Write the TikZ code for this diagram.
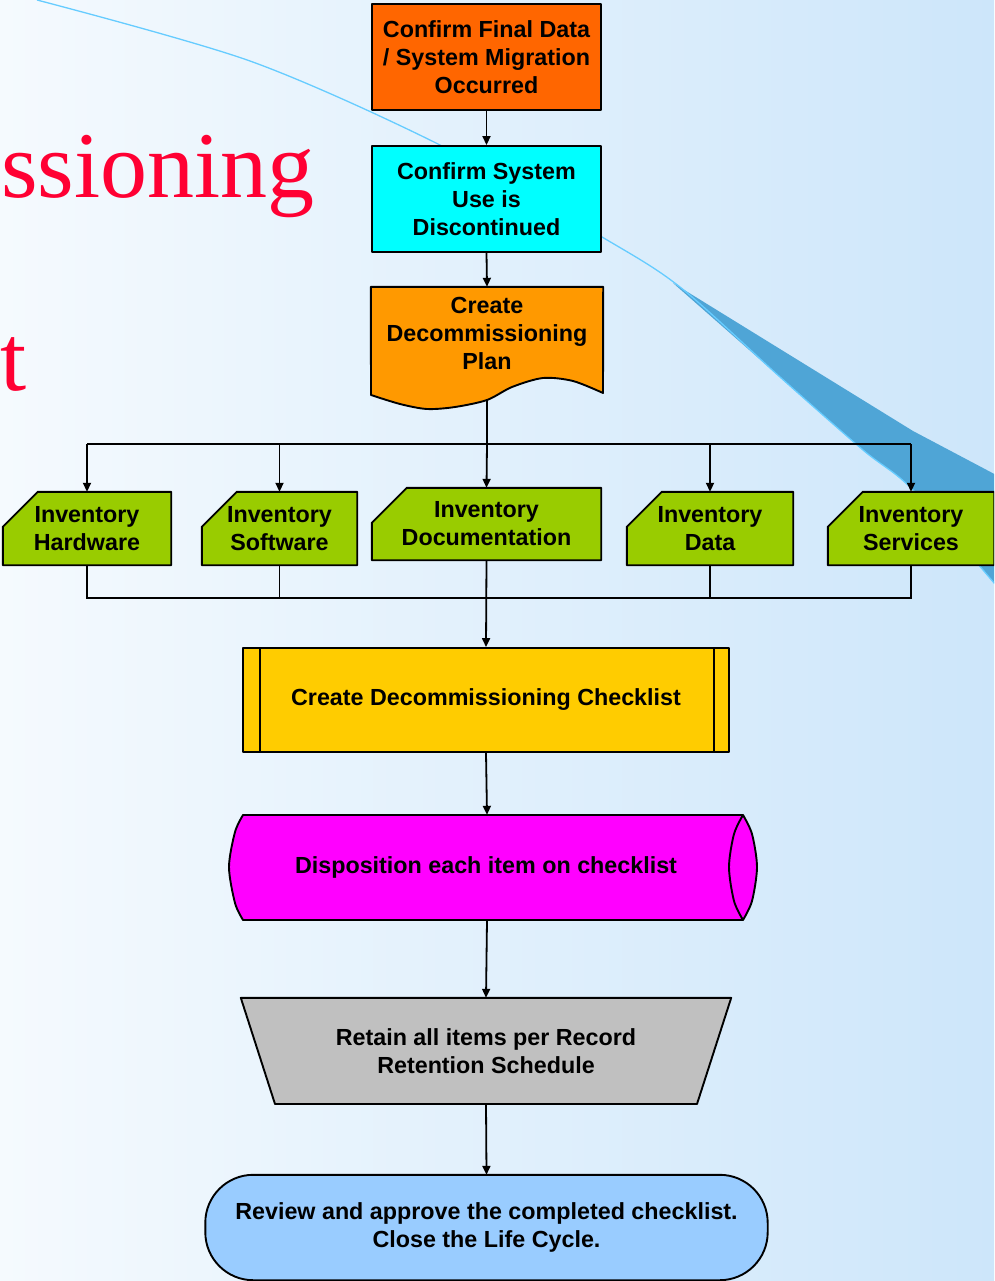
\documentclass[tikz,border=0pt]{standalone}
\usepackage{fontspec}
\setmainfont{Liberation Sans}
\newfontfamily\titleserif{Liberation Serif}
\usetikzlibrary{arrows.meta,calc}
\definecolor{bgL}{HTML}{F5FAFE}
\definecolor{bgR}{HTML}{CDE6FA}
\definecolor{thinline}{HTML}{66CCFF}
\definecolor{wedge}{HTML}{4FA5D6}
\definecolor{titlered}{HTML}{FF0033}
\definecolor{cOrangeRed}{HTML}{FF6600}
\definecolor{cCyan}{HTML}{00FFFF}
\definecolor{cOrange}{HTML}{FF9900}
\definecolor{cGreen}{HTML}{99CC00}
\definecolor{cGold}{HTML}{FFCC00}
\definecolor{cMagenta}{HTML}{FF00FF}
\definecolor{cGray}{HTML}{C0C0C0}
\definecolor{cSky}{HTML}{99CCFF}
\begin{document}
\begin{tikzpicture}[x=1pt,y=-1pt,
  outline/.style={draw=black,line width=1.9pt,line join=round},
  lbl/.style={font=\bfseries\fontsize{23.3}{28}\selectfont,align=center,inner sep=0pt},
  holder/.style={lbl,minimum width=#1},
  arr/.style={line width=1.8pt,-{Triangle[length=9pt,width=8pt]}},
  wire/.style={line width=1.8pt}]
\useasboundingbox (0,0) rectangle (994,1281);
\clip (0,0) rectangle (994,1281);
% background
\shade[left color=bgL,right color=bgR] (0,0) rectangle (994,1281);
% decorative arc and wedge
\fill[wedge] (673,283) -- (780,349) -- (913,431) -- (1000,477) -- (1000,590)
  -- plot[smooth] coordinates {(1000,590) (913,490) (863,450) (780,377) (673,283)} -- cycle;
\draw[thinline,line width=1.3pt] plot[smooth] coordinates {(37,0) (250,61) (440,145) (602,237) (680,287) (780,377) (863,450) (913,490) (1000,590)};
% title fragments
\node[anchor=base west,inner sep=0pt,text=titlered,font=\titleserif\fontsize{94}{94}\selectfont] (ttl1) at (1,198) {ssioning};
\node[anchor=base west,inner sep=0pt,text=titlered,font=\titleserif\fontsize{94}{94}\selectfont] (ttl2) at (0,390) {t};
% box 1
\node[holder=229pt,minimum height=106pt,outline,fill=cOrangeRed] (b1) at (486.5,57)
  {Confirm Final Data\\/ System Migration\\Occurred};
% box 2
\node[holder=229pt,minimum height=106pt,outline,fill=cCyan] (b2) at (486.5,199)
  {Confirm System\\Use is\\Discontinued};
% document shape
\node[holder=232pt,minimum height=122pt] (doc) at (487,348) {};
\path[outline,fill=cOrange] (doc.north west) -- (doc.north east) -- (603,393)
  -- plot[smooth] coordinates {(603,393) (573,381) (543,378) (512,387) (487,400) (455,407) (427,409) (400,404) (371,395)} -- cycle;
\node[lbl] (doctxt) at (487,333) {Create\\Decommissioning\\Plan};
\coordinate (docb) at (487,400);
% inventory cards
\node[holder=168pt,minimum height=73pt] (hw) at (87,528.5) {};
\node[holder=155pt,minimum height=73pt] (sw) at (279.5,528.5) {};
\node[holder=229pt,minimum height=72pt] (idoc) at (486.5,524) {};
\node[holder=166pt,minimum height=73pt] (dat) at (710,528.5) {};
\node[holder=166pt,minimum height=73pt] (srv) at (911,528.5) {};
\foreach \n in {hw,sw,idoc,dat,srv}{
  \path[outline,fill=cGreen] ($(\n.north west)+(35,0)$) -- (\n.north east) -- (\n.south east)
    -- (\n.south west) -- ($(\n.north west)+(0,35)$) -- cycle;
}
\node[lbl] at (hw) {Inventory\\Hardware};
\node[lbl] at (sw) {Inventory\\Software};
\node[lbl] at (idoc) {Inventory\\Documentation};
\node[lbl] at (dat) {Inventory\\Data};
\node[lbl] at (srv) {Inventory\\Services};
% checklist (predefined process)
\node[holder=486pt,minimum height=104pt,outline,fill=cGold] (chk) at (486,700)
  {Create Decommissioning Checklist};
\draw[outline] ($(chk.north west)+(18,0)$) -- ($(chk.south west)+(18,0)$);
\draw[outline] ($(chk.north east)+(-16,0)$) -- ($(chk.south east)+(-16,0)$);
% disposition (horizontal cylinder)
\node[holder=500pt,minimum height=105pt] (disp) at (487,867.5) {};
\path[outline,fill=cMagenta] (243,815) -- (743,815)
  -- plot[smooth] coordinates {(743,815) (752,834) (757,867) (752,901) (743,920)}
  -- (243,920)
  -- plot[smooth] coordinates {(243,920) (235,903) (229,867) (235,832) (243,815)} -- cycle;
\draw[outline] plot[smooth] coordinates {(743,815) (734,834) (729,867) (734,901) (743,920)};
\node[lbl] at (486,867) {Disposition each item on checklist};
% retain (manual operation)
\node[holder=490pt,minimum height=106pt] (ret) at (486,1051) {};
\path[outline,fill=cGray] (ret.north west) -- (ret.north east) -- (697,1104) -- (275,1104) -- cycle;
\node[lbl] at (486,1051) {Retain all items per Record\\Retention Schedule};
% terminator
\node[holder=562pt,minimum height=105pt] (term) at (486.5,1227.5) {};
\path[outline,fill=cSky,rounded corners=48pt] (term.north west) rectangle (term.south east);
\node[lbl] at (486.5,1227) {Review and approve the completed checklist.\\Close the Life Cycle.};
% connectors
\draw[arr] (b1.south) -- (b2.north);
\draw[arr] (b2.south) -- (doc.north);
\coordinate (bus) at (487,444);
\draw[wire] (docb) -- (bus);
\draw[wire] (hw.north |- bus) -- (srv.north |- bus);
\draw[arr] (bus -| hw.north) -- (hw.north);
\draw[arr] (bus -| sw.north) -- (sw.north);
\draw[arr] (bus) -- (idoc.north);
\draw[arr] (bus -| dat.north) -- (dat.north);
\draw[arr] (bus -| srv.north) -- (srv.north);
\coordinate (bus2) at (487,598);
\draw[wire] (hw.south) |- (bus2);
\draw[wire] (sw.south) |- (bus2);
\draw[wire] (dat.south) |- (bus2);
\draw[wire] (srv.south) |- (bus2);
\draw[arr] (idoc.south) -- (chk.north);
\draw[arr] (chk.south) -- (disp.north);
\draw[arr] (disp.south) -- (ret.north);
\draw[arr] (ret.south) -- (term.north);
\end{tikzpicture}
\end{document}
